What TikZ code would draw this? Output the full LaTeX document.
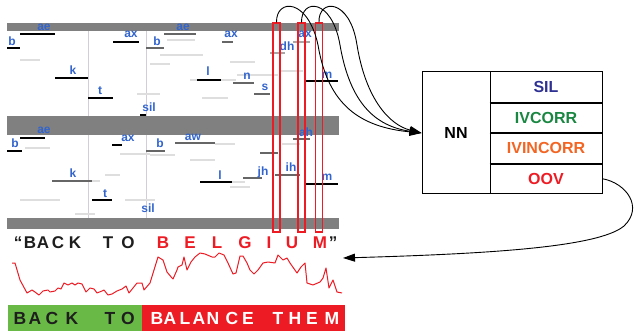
\documentclass[tikz,border=0pt]{standalone}
\usepackage{fontspec}
\setmainfont{Liberation Sans}
\usetikzlibrary{arrows.meta}

\definecolor{lblue}{RGB}{50,100,205}
\definecolor{bargray}{RGB}{128,128,128}
\definecolor{sred}{RGB}{237,28,36}
\definecolor{sgreen}{RGB}{105,185,70}
\definecolor{silblue}{RGB}{46,49,146}
\definecolor{ivgreen}{RGB}{25,135,65}
\definecolor{ivorange}{RGB}{242,101,34}
\definecolor{divline}{RGB}{210,205,215}
\definecolor{txtdark}{RGB}{30,30,30}

\begin{document}
\begin{tikzpicture}[x=1pt,y=-1pt,
  lbl/.style={text=lblue,font=\fontsize{12}{12}\selectfont\bfseries,inner sep=0pt,anchor=base},
  hyp/.style={line width=2.3pt,black},
  hypmid/.style={line width=2.3pt,black!60},
  faint/.style={line width=1.3pt,black!13},
  band/.style={fill=bargray,draw=none},
  divider/.style={divline,line width=0.8pt},
  slot/.style={draw=sred,line width=1.1pt,minimum width=7pt,inner sep=0pt},
  bigletter/.style={font=\fontsize{17}{17}\selectfont\bfseries,inner sep=0pt,anchor=base},
  barletter/.style={font=\fontsize{17.5}{17.5}\selectfont\bfseries,inner sep=0pt,anchor=base},
  cell/.style={draw=black,line width=1pt,inner sep=0pt,font=\fontsize{16}{16}\selectfont\bfseries},
  link/.style={black,line width=0.9pt,-{Triangle[length=12pt,width=8pt]}}
]
\useasboundingbox (0,0) rectangle (635,334);

% ---------- lattice panels: gray separator bands ----------
\fill[band] (7,23) rectangle (339,31);
\fill[band] (7,116) rectangle (339,135);
\fill[band] (7,218) rectangle (339,229);

% word boundary markers
\draw[divider] (88,31) -- (88,116);
\draw[divider] (146,31) -- (146,116);
\draw[divider] (88,135) -- (88,218);
\draw[divider] (146,135) -- (146,218);

% ---------- upper panel: competing hypotheses ----------
\draw[faint] (167,40) -- (195,40);
\draw[faint] (160,55) -- (203,55);
\draw[faint] (137,94) -- (160,94);
\draw[faint] (202,98) -- (228,98);
\draw[faint] (237,75) -- (278,75);
\draw[faint] (279,71) -- (303,71);
\draw[faint] (190,80) -- (236,80);
\draw[faint] (150,64) -- (170,64);
\draw[faint] (20,60) -- (40,60);
\draw[faint] (230,62) -- (255,62);

\draw[hyp] (20,34) -- (55,34);
\draw[hyp] (7,48) -- (20,48);
\draw[hyp] (113,42) -- (139,42);
\draw[hyp] (55,78) -- (88,78);
\draw[hyp] (88,98) -- (113,98);
\draw[hyp] (140,115) -- (146,115);
\draw[hypmid] (146,48) -- (164,48);
\draw[hypmid] (164,34) -- (196,34);
\draw[hyp] (197,80) -- (221,80);
\draw[hypmid] (222,42) -- (233,42);
\draw[hypmid] (233,83) -- (254,83);
\draw[hypmid] (254,94) -- (270,94);
\draw[faint,black!35] (270,53) -- (285,53);
\draw[faint,black!35] (293,42) -- (310,42);
\draw[hyp] (305,81) -- (338,81);

\node[lbl] (ae1) at (44,31) {ae};
\node[lbl] (b1) at (12,46) {b};
\node[lbl] (ax1) at (131,38) {ax};
\node[lbl] (k1) at (73,75) {k};
\node[lbl] (t1) at (100,95) {t};
\node[lbl] (sil1) at (149,112) {sil};
\node[lbl] (b2) at (157,46) {b};
\node[lbl] (ae2) at (183,31) {ae};
\node[lbl] (l1) at (208,76) {l};
\node[lbl] (ax2) at (231,38) {ax};
\node[lbl] (n1) at (247,80) {n};
\node[lbl] (s1) at (265,91) {s};
\node[lbl] (dh1) at (287,51) {dh};
\node[lbl] (ax3) at (305,38) {ax};
\node[lbl] (m1) at (327,79) {m};

% ---------- lower panel: competing hypotheses ----------
\draw[faint] (25,148) -- (50,148);
\draw[faint] (120,154) -- (150,154);
\draw[faint] (150,155) -- (175,155);
\draw[faint] (105,175) -- (120,175);
\draw[faint] (20,200) -- (60,200);
\draw[faint] (125,200) -- (155,200);
\draw[faint] (282,144) -- (300,144);
\draw[faint] (230,187) -- (250,187);
\draw[faint] (215,144) -- (235,144);
\draw[faint] (92,181) -- (100,181);
\draw[faint] (232,182) -- (245,182);
\draw[faint] (190,160) -- (215,160);
\draw[faint] (75,214) -- (95,214);

\draw[hyp] (20,138) -- (45,138);
\draw[hyp] (7,151) -- (22,151);
\draw[hyp] (112,145) -- (122,145);
\draw[hypmid] (146,151) -- (165,151);
\draw[hypmid] (175,143) -- (215,143);
\draw[hypmid] (52,181) -- (92,181);
\draw[hyp] (92,200) -- (112,200);
\draw[hyp] (200,182) -- (232,182);
\draw[hypmid] (243,178) -- (262,178);
\draw[hypmid] (275,175) -- (300,175);
\draw[hypmid] (260,153) -- (278,153);
\draw[hypmid] (293,139) -- (310,139);
\draw[hyp] (305,184) -- (338,184);

\node[lbl] (ae3) at (44,134) {ae};
\node[lbl] (b3) at (15,148) {b};
\node[lbl] (ax4) at (128,142) {ax};
\node[lbl] (b4) at (160,148) {b};
\node[lbl] (aw1) at (193,141) {aw};
\node[lbl] (k2) at (73,178) {k};
\node[lbl] (t2) at (105,198) {t};
\node[lbl] (sil2) at (148,213) {sil};
\node[lbl] (l2) at (220,180) {l};
\node[lbl] (jh1) at (263,176) {jh};
\node[lbl] (ih1) at (291,172) {ih};
\node[lbl] (ah1) at (306,137) {ah};
\node[lbl] (m2) at (327,181) {m};

% ---------- selected time slots ----------
\node[slot,minimum height=209pt] (slotI) at (276.5,127.5) {};
\node[slot,minimum height=209pt] (slotU) at (301.5,127.5) {};
\node[slot,minimum height=209pt] (slotM) at (319,127.5) {};

% ---------- classifier ----------
\node[cell,minimum width=68pt,minimum height=122pt] (nn) at (456,133) {NN};
\node[cell,minimum width=112pt,minimum height=30.5pt,text=silblue] (sil) at (546,87.25) {SIL};
\node[cell,minimum width=112pt,minimum height=30.5pt,text=ivgreen] (ivc) at (546,117.75) {IVCORR};
\node[cell,minimum width=112pt,minimum height=30.5pt,text=ivorange] (ivi) at (546,148.25) {IVINCORR};
\node[cell,minimum width=112pt,minimum height=30.5pt,text=sred] (oov) at (546,178.75) {OOV};
\draw[line width=1.6pt] (sil.south west) -- (sil.south east);
\draw[line width=1.6pt] (ivc.south west) -- (ivc.south east);
\draw[line width=1.6pt] (ivi.south west) -- (ivi.south east);

% slot features feeding the network
\draw[link] (slotI.north) .. controls (276,-2) and (308,-2) .. (318,45)
  .. controls (328,105) and (360,127) .. (nn.west);
\draw[link] (slotU.north) .. controls (301,-2) and (332,-2) .. (340,45)
  .. controls (350,103) and (375,126) .. (nn.west);
\draw[link] (slotM.north) .. controls (318,-2) and (350,-2) .. (357,45)
  .. controls (366,100) and (390,125) .. (nn.west);

% OOV decision fed back to the recognised region
\coordinate (wavein) at (343,258);
\draw[link] (oov.east) .. controls (626,183) and (644,207) .. (624,226)
  .. controls (598,248) and (480,254) .. (wavein);

% ---------- reference transcript ----------
\node[bigletter,text=txtdark] (q1) at (18,248) {“};
\node[bigletter,text=txtdark] (r1) at (30,248) {B};
\node[bigletter,text=txtdark] (r2) at (43,248) {A};
\node[bigletter,text=txtdark] (r3) at (58,248) {C};
\node[bigletter,text=txtdark] (r4) at (75,248) {K};
\node[bigletter,text=txtdark] (r5) at (108,248) {T};
\node[bigletter,text=txtdark] (r6) at (128,248) {O};
\node[bigletter,text=sred] (r7) at (163,248) {B};
\node[bigletter,text=sred] (r8) at (190,248) {E};
\node[bigletter,text=sred] (r9) at (217,248) {L};
\node[bigletter,text=sred] (r10) at (245,248) {G};
\node[bigletter,text=sred] (r11) at (269,248) {I};
\node[bigletter,text=sred] (r12) at (292,248) {U};
\node[bigletter,text=sred] (r13) at (320,248) {M};
\node[bigletter,text=txtdark] (q2) at (333,248) {”};

% ---------- confidence trace ----------
\draw[sred,line width=1pt,line join=round] plot coordinates {
 (12,263) (15,263) (20,280) (27,293) (32,290) (35,292) (39,295) (43,291)
 (48,290) (50,292) (55,291) (58,288) (61,289) (64,283) (68,285) (72,283)
 (75,285) (78,283) (82,284) (86,292) (90,288) (94,289) (97,293) (102,291)
 (104,290) (108,295) (112,294) (117,291) (122,289) (126,286) (129,293)
 (133,288) (137,283) (142,283) (144,290) (150,283) (158,257) (163,260)
 (167,272) (172,278) (173,279) (177,270) (178,267) (182,265) (184,257)
 (187,270) (191,262) (195,257) (200,253) (205,254) (212,257) (215,257)
 (219,253) (224,255) (228,263) (233,274) (236,273) (240,256) (243,256)
 (247,263) (250,270) (254,274) (258,270) (263,263) (268,262) (275,263)
 (278,255) (283,260) (287,258) (290,263) (297,273) (301,267) (305,263)
 (307,283) (313,285) (320,282) (323,278) (326,268) (329,288) (333,280)
 (337,292) (342,293)};

% ---------- recognised output ----------
\node[fill=sgreen,minimum width=134pt,minimum height=26pt,inner sep=0pt] (hypok) at (75,318) {};
\node[fill=sred,minimum width=203pt,minimum height=26pt,inner sep=0pt] (hypbad) at (243.5,318) {};
\node[barletter,text=txtdark] (o1) at (20,324) {B};
\node[barletter,text=txtdark] (o2) at (35,324) {A};
\node[barletter,text=txtdark] (o3) at (52,324) {C};
\node[barletter,text=txtdark] (o4) at (72,324) {K};
\node[barletter,text=txtdark] (o5) at (110,324) {T};
\node[barletter,text=txtdark] (o6) at (128,324) {O};
\node[barletter,text=white] (o7) at (157,324) {B};
\node[barletter,text=white] (o8) at (170,324) {A};
\node[barletter,text=white] (o9) at (185,324) {L};
\node[barletter,text=white] (o10) at (199,324) {A};
\node[barletter,text=white] (o11) at (213,324) {N};
\node[barletter,text=white] (o12) at (232,324) {C};
\node[barletter,text=white] (o13) at (248,324) {E};
\node[barletter,text=white] (o14) at (278,324) {T};
\node[barletter,text=white] (o15) at (295,324) {H};
\node[barletter,text=white] (o16) at (312,324) {E};
\node[barletter,text=white] (o17) at (332,324) {M};
\end{tikzpicture}
\end{document}
